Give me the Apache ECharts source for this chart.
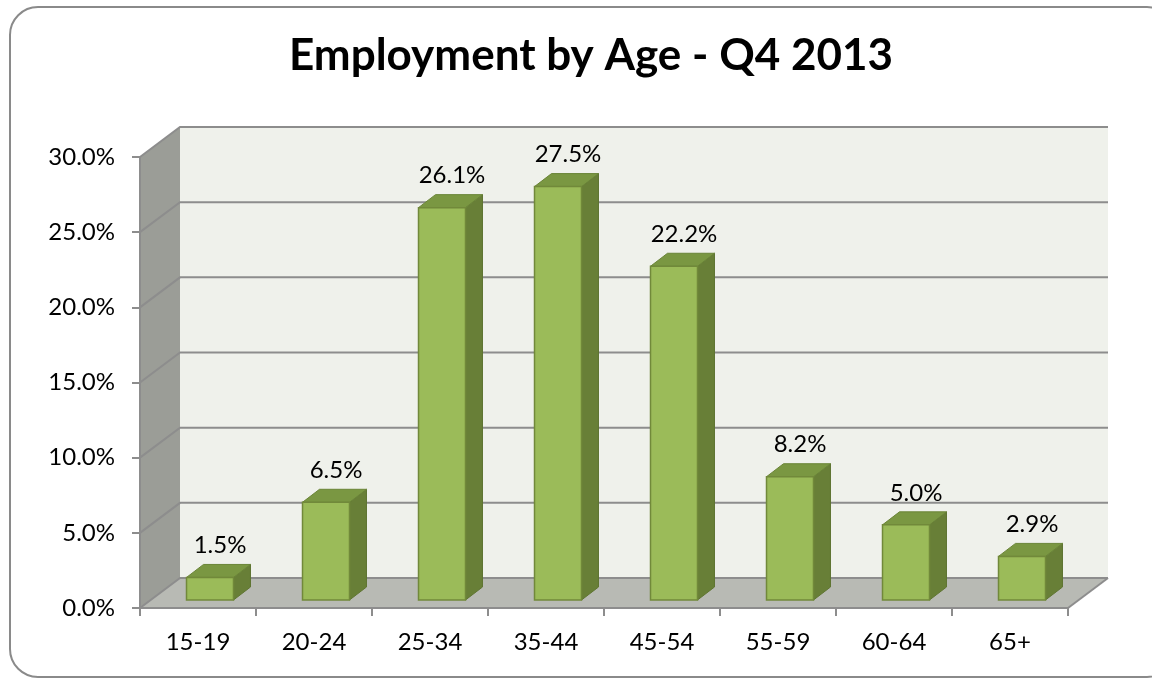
<!DOCTYPE html>
<html>
<head>
<meta charset="utf-8">
<script src="https://cdn.jsdelivr.net/npm/echarts@6/dist/echarts.min.js"></script>
<style>
  html, body { margin: 0; padding: 0; background: #ffffff; }
  #chart { width: 1152px; height: 679px; }
</style>
</head>
<body>
<div id="chart"></div>
<script>
// Share of employment by age group, Q4 2013
const categories = ['15-19', '20-24', '25-34', '35-44', '45-54', '55-59', '60-64', '65+'];
const shares = [0.015, 0.065, 0.261, 0.275, 0.222, 0.082, 0.050, 0.029];
const yTicks = [0, 0.05, 0.10, 0.15, 0.20, 0.25, 0.30];
const tickLabels = ['0.0%', '5.0%', '10.0%', '15.0%', '20.0%', '25.0%', '30.0%'];

const FONT = 'Lato, "Open Sans", sans-serif';

// depth of the box (back wall offset) and of each bar
const DEPTH_X = 40, DEPTH_Y = 30;
const BAR_SHIFT_X = 12, BAR_SHIFT_Y = 8;
const BAR_DEPTH_X = 17, BAR_DEPTH_Y = 13;
const BAR_WIDTH = 0.405;

const GRID_COLOR = '#8d8d8d';

function pct(v) { return (v * 100).toFixed(1) + '%'; }

// walls, floor and gridlines of the 3-D box
function renderFrame(params, api) {
  const cs = params.coordSys;
  const x0 = cs.x, x1 = cs.x + cs.width;
  const yTop = cs.y, yBot = cs.y + cs.height;
  const children = [
    { type: 'polygon', shape: { points: [[x0, yBot], [x0, yTop], [x0 + DEPTH_X, yTop - DEPTH_Y], [x0 + DEPTH_X, yBot - DEPTH_Y]] },
      style: { fill: '#9b9d97' } },
    { type: 'rect', shape: { x: x0 + DEPTH_X, y: yTop - DEPTH_Y, width: x1 - x0, height: yBot - yTop },
      style: { fill: '#eff1eb' } },
    { type: 'polygon', shape: { points: [[x0, yBot], [x1, yBot], [x1 + DEPTH_X, yBot - DEPTH_Y], [x0 + DEPTH_X, yBot - DEPTH_Y]] },
      style: { fill: '#b8bab4' } }
  ];
  yTicks.forEach(function (v) {
    const y = api.coord([0, v])[1];
    children.push({ type: 'polyline', shape: { points: [[x0, y], [x0 + DEPTH_X, y - DEPTH_Y], [x1 + DEPTH_X, y - DEPTH_Y]] },
      style: { stroke: GRID_COLOR, lineWidth: 2, fill: null } });
  });
  children.push({ type: 'line', shape: { x1: x1, y1: yBot, x2: x1 + DEPTH_X, y2: yBot - DEPTH_Y },
    style: { stroke: GRID_COLOR, lineWidth: 2 } });
  return { type: 'group', children: children };
}

// one extruded bar with its value label
function renderBar(params, api) {
  const i = api.value(0), v = api.value(1);
  const base = api.coord([i, 0]);
  const top = api.coord([i, v]);
  const w = api.size([1, 0])[0] * BAR_WIDTH;
  const cx = base[0] + BAR_SHIFT_X;
  const xl = cx - w / 2, xr = cx + w / 2;
  const yb = base[1] - BAR_SHIFT_Y, yt = top[1] - BAR_SHIFT_Y;
  const edge = '#71893a';
  return {
    type: 'group',
    children: [
      { type: 'polygon', shape: { points: [[xr, yb], [xr, yt], [xr + BAR_DEPTH_X, yt - BAR_DEPTH_Y], [xr + BAR_DEPTH_X, yb - BAR_DEPTH_Y]] },
        style: { fill: '#687f37', stroke: '#5f7532', lineWidth: 1 } },
      { type: 'polygon', shape: { points: [[xl, yt], [xr, yt], [xr + BAR_DEPTH_X, yt - BAR_DEPTH_Y], [xl + BAR_DEPTH_X, yt - BAR_DEPTH_Y]] },
        style: { fill: '#7a9742', stroke: '#6a8437', lineWidth: 1 } },
      { type: 'rect', shape: { x: xl, y: yt, width: w, height: yb - yt },
        style: { fill: '#9bbb59', stroke: edge, lineWidth: 1.5 } },
      { type: 'text', x: cx + 10, y: yt - BAR_DEPTH_Y - 19,
        style: { text: pct(v), font: '24px ' + FONT, fill: '#000000', align: 'center', verticalAlign: 'middle' } }
    ]
  };
}

const chart = echarts.init(document.getElementById('chart'), null, { renderer: 'canvas' });

chart.setOption({
  backgroundColor: '#ffffff',
  animation: false,
  title: {
    text: 'Employment by Age - Q4 2013',
    left: 586,
    top: 29,
    textAlign: 'center',
    textStyle: { fontFamily: FONT, fontWeight: 'bold', fontSize: 44, color: '#000000' }
  },
  graphic: [
    { type: 'rect', z: -10, shape: { x: 10, y: 7, width: 1165, height: 670, r: 28 },
      style: { fill: '#ffffff', stroke: '#8a8a8a', lineWidth: 2 } }
  ],
  grid: { left: 140, right: 84, top: 157, bottom: 71, containLabel: false },
  xAxis: {
    type: 'category',
    data: categories,
    z: 5,
    axisLine: { show: true, lineStyle: { color: GRID_COLOR, width: 2 } },
    axisTick: { show: true, length: 8, lineStyle: { color: GRID_COLOR, width: 2 } },
    axisLabel: { margin: 22, fontFamily: FONT, fontSize: 24, color: '#000000' },
    splitLine: { show: false }
  },
  yAxis: {
    type: 'value',
    min: 0,
    max: 0.30,
    interval: 0.05,
    z: 5,
    axisLine: { show: true, lineStyle: { color: GRID_COLOR, width: 2 } },
    axisTick: { show: true, length: 8, lineStyle: { color: GRID_COLOR, width: 2 } },
    axisLabel: {
      margin: 25, fontFamily: FONT, fontSize: 24, color: '#000000',
      formatter: function (v) {
        const k = yTicks.findIndex(function (t) { return Math.abs(t - v) < 1e-9; });
        return k >= 0 ? tickLabels[k] : pct(v);
      }
    },
    splitLine: { show: false }
  },
  series: [
    {
      type: 'custom',
      name: 'frame',
      z: 1,
      silent: true,
      clip: false,
      renderItem: renderFrame,
      data: [[0, 0]]
    },
    {
      type: 'custom',
      name: 'Employment share',
      z: 2,
      clip: false,
      renderItem: renderBar,
      encode: { x: 0, y: 1 },
      data: shares.map(function (v, i) { return [i, v]; })
    }
  ]
});
</script>
</body>
</html>
